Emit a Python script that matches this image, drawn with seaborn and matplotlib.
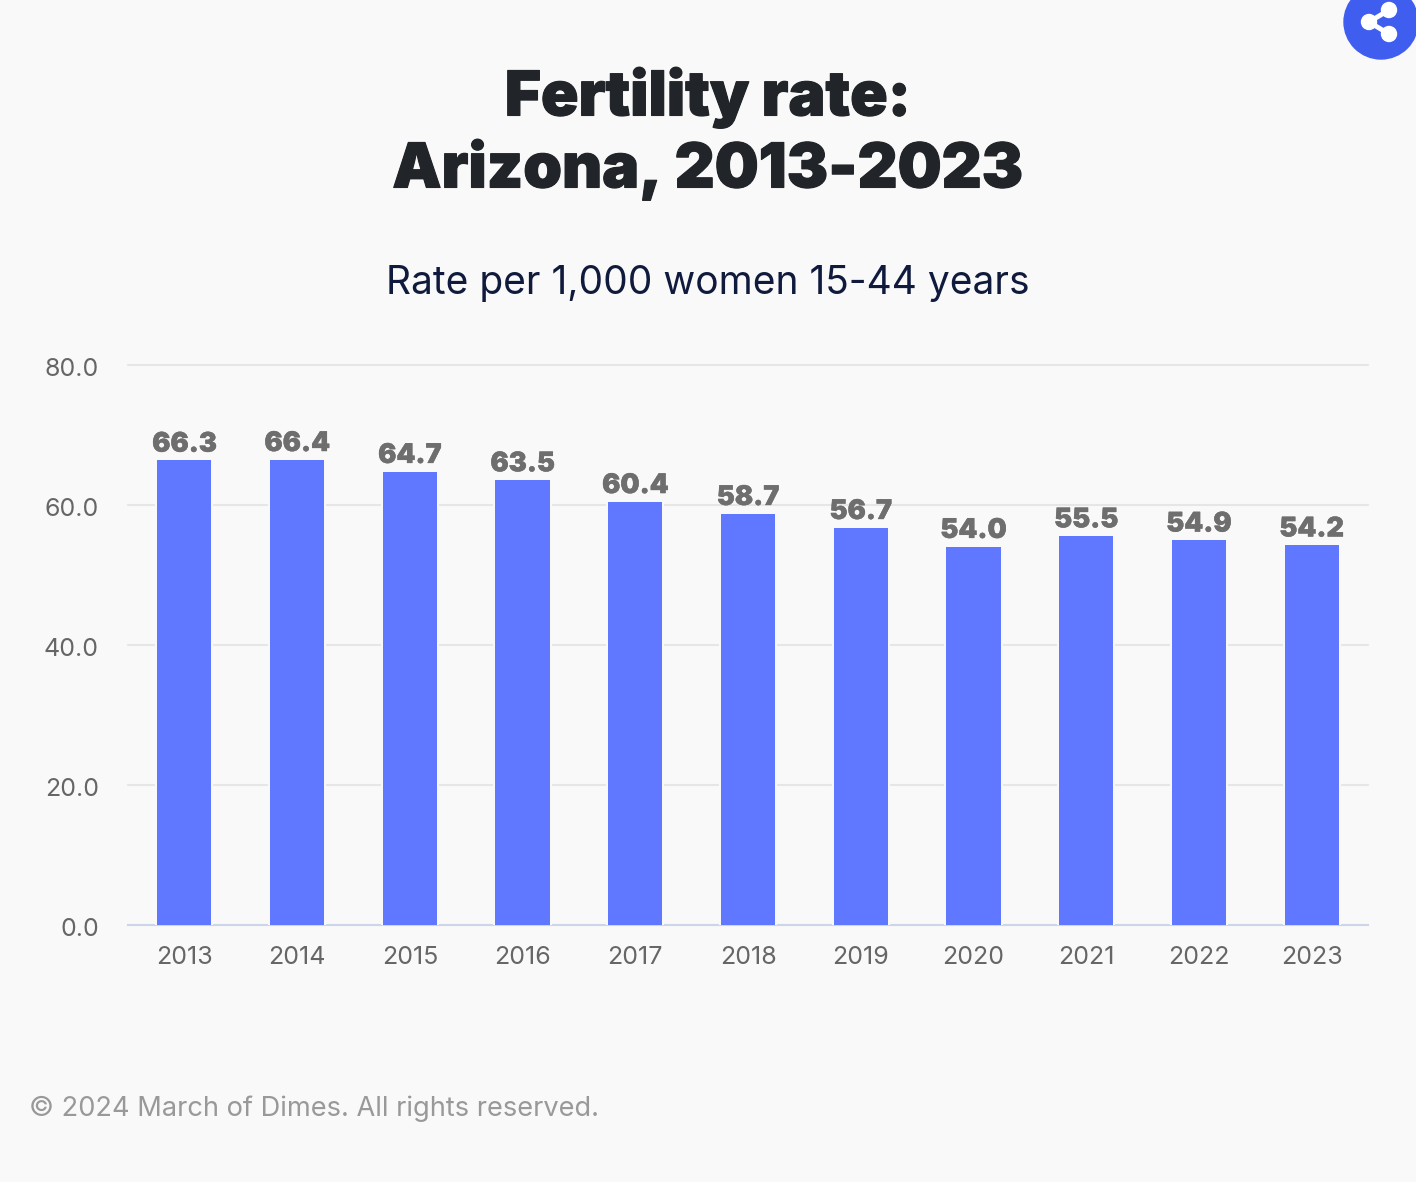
import matplotlib
matplotlib.use("Agg")
import matplotlib.pyplot as plt
import matplotlib.patheffects as pe
from matplotlib.patches import Circle
from matplotlib.lines import Line2D
from matplotlib.transforms import ScaledTranslation
import pandas as pd
import seaborn as sns

years = ["2013", "2014", "2015", "2016", "2017", "2018", "2019", "2020", "2021", "2022", "2023"]
rates = [66.3, 66.4, 64.7, 63.5, 60.4, 58.7, 56.7, 54.0, 55.5, 54.9, 54.2]
y_ticks = [0, 20, 40, 60, 80]

BG = "#f9f9f9"
BAR = "#6078ff"
GREY = "#666666"

sns.set_theme(style="white")
plt.rcParams["font.family"] = ["Inter", "DejaVu Sans"]

df = pd.DataFrame({"year": years, "rate": rates})

W, H = 1416, 1182
fig = plt.figure(figsize=(W / 100, H / 100), dpi=100, facecolor=BG)
ax = fig.add_axes([128 / W, 1 - 925 / H, 1240 / W, 560.5 / H], facecolor=BG)

sns.barplot(data=df, x="year", y="rate", color=BAR, saturation=1, width=0.48,
            linewidth=0, zorder=3, ax=ax)

# gridlines stop short of the bars, so each bar gets a thin halo
for bar in ax.patches:
    bar.set_path_effects([pe.Stroke(linewidth=3, foreground=BG), pe.Normal()])

ax.set_xlim(-0.5, len(years) - 0.5)
ax.set_ylim(0, 80)
ax.set_xlabel("")
ax.set_ylabel("")
ax.set_yticks(y_ticks)
ax.set_yticklabels([f"{v:.1f}" for v in y_ticks])
ax.grid(axis="y", color="#e6e6e6", linewidth=1.5, zorder=0, clip_on=False)
ax.grid(axis="x", visible=False)
ax.tick_params(axis="y", length=0, pad=21, labelsize=18, labelcolor=GREY)
ax.tick_params(axis="x", length=0, pad=15, labelsize=18, labelcolor=GREY)
for t in ax.get_yticklabels():
    t.set_verticalalignment("center")
    t.set_transform(t.get_transform() + ScaledTranslation(0, -5 / 100, fig.dpi_scale_trans))
sns.despine(ax=ax, left=True, top=True, right=True)
ax.spines["bottom"].set_color("#ccd6eb")
ax.spines["bottom"].set_linewidth(1.5)

for i, v in enumerate(rates):
    ax.annotate(f"{v:.1f}", (i, v), xytext=(0, 2), textcoords="offset points",
                ha="center", va="bottom", fontsize=19.5, fontweight="black", color="#6e6e6e",
                path_effects=[pe.withStroke(linewidth=0.3, foreground="#6e6e6e")], zorder=5)

title_fx = [pe.withStroke(linewidth=0.8, foreground="#212529")]
fig.text(708 / W, 1 - 98 / H, "Fertility rate:", ha="center", va="center", fontsize=44.6,
         fontweight="black", color="#212529", path_effects=title_fx)
fig.text(708 / W, 1 - 170 / H, "Arizona, 2013-2023", ha="center", va="center", fontsize=44.6,
         fontweight="black", color="#212529", path_effects=title_fx)
fig.text(708 / W, 1 - 283 / H, "Rate per 1,000 women 15-44 years", ha="center", va="center",
         fontsize=28, color="#0f1a3c")
fig.text(29 / W, 1 - 1109 / H, "© 2024 March of Dimes. All rights reserved.", ha="left", va="center",
         fontsize=19.6, color="#999999")

# share button in the top right corner
overlay = fig.add_axes([0, 0, 1, 1], facecolor="none")
overlay.set_xlim(0, W)
overlay.set_ylim(H, 0)
overlay.axis("off")
overlay.add_patch(Circle((1381, 22), 37, color="#3f5ef0", clip_on=True))
overlay.add_line(Line2D([1389, 1369, 1389], [10, 22, 34], color="white", lw=3.5))
for cx, cy in [(1389, 10), (1369, 22), (1389, 34)]:
    overlay.add_patch(Circle((cx, cy), 7.5, color="white"))

fig.savefig("out.png", dpi=100, facecolor=BG)
